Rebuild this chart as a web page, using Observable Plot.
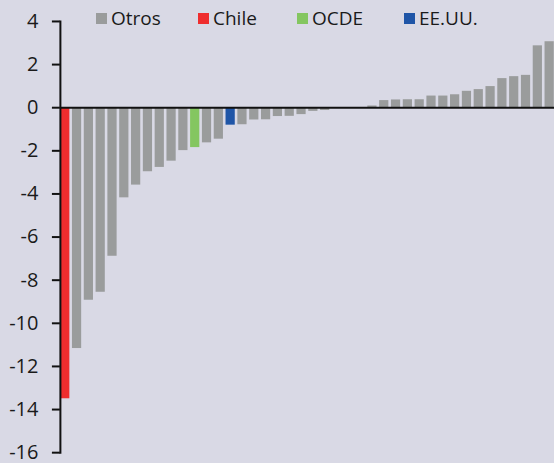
<!DOCTYPE html>
<html>
<head>
<meta charset="utf-8">
<script src="https://cdn.jsdelivr.net/npm/d3@7"></script>
<script src="https://cdn.jsdelivr.net/npm/@observablehq/plot@0.6"></script>
<style>
  html, body { margin: 0; padding: 0; background: #d9d9e5; overflow: hidden; }
  #wrap { position: relative; width: 554px; height: 463px; font-family: "Open Sans", "Noto Sans", sans-serif; }
  #legend { position: absolute; top: 5px; left: 0; font-size: 19px; color: #1a1a1a; }
  #legend .item { position: absolute; display: flex; align-items: center; white-space: nowrap; }
  #legend .sw { width: 11px; height: 11px; margin-right: 4px; }
</style>
</head>
<body>
<div id="wrap"><div id="chart"></div><div id="legend"></div></div>
<script>
// Data (one bar per country, sorted)
const countries = d3.range(42).map(i => "c" + i);
const values = [
  -13.5, -11.17, -8.93, -8.56, -6.89, -4.18, -3.59, -2.97, -2.77, -2.48,
  -1.99, -1.85, -1.63, -1.46, -0.81, -0.79, -0.57, -0.56, -0.41, -0.40,
  -0.32, -0.17, -0.13, 0, 0, 0, 0.08, 0.33, 0.36, 0.37,
  0.37, 0.54, 0.54, 0.60, 0.76, 0.84, 0.98, 1.35, 1.44, 1.50,
  2.87, 3.06
];
const groups = countries.map((c, i) => i === 0 ? "Chile" : i === 11 ? "OCDE" : i === 14 ? "EE.UU." : "Otros");
const legendNames = ["Otros", "Chile", "OCDE", "EE.UU."];
const legendColors = ["#9a9c9c", "#ef2d2e", "#84c660", "#1f55a7"];
const yTicks = [4, 2, 0, -2, -4, -6, -8, -10, -12, -14, -16];

const data = countries.map((c, i) => ({country: c, value: values[i], group: groups[i]}));
const fmt = d => d < 0 ? "-" + Math.abs(d) : String(d);

const chart = Plot.plot({
  width: 555,
  height: 463,
  marginLeft: 60,
  marginRight: 0,
  marginTop: 21,
  marginBottom: 10,
  style: {background: "#d9d9e5", fontFamily: "Open Sans, Noto Sans, sans-serif", fontSize: "20px", color: "#1a1a1a", overflow: "visible"},
  x: {domain: countries, paddingInner: 0.22, paddingOuter: 0.02, axis: null},
  y: {domain: [-16, 4], ticks: yTicks, tickFormat: fmt, label: null},
  color: {domain: legendNames, range: legendColors},
  marks: [
    Plot.barY(data, {x: "country", y: "value", fill: "group"}),
    Plot.ruleY([0], {stroke: "#111", strokeWidth: 2}),
    Plot.frame({anchor: "left", stroke: "#111", strokeWidth: 2}),
    Plot.axisY({ticks: yTicks, tickSize: 8, tickPadding: 14, tickFormat: fmt, label: null, stroke: "#111", strokeWidth: 2, fontSize: 20})
  ]
});
document.getElementById("chart").appendChild(chart);

const leg = document.getElementById("legend");
const legendLeft = [96, 198, 297, 404];
legendNames.forEach((n, i) => {
  const it = document.createElement("div");
  it.className = "item";
  it.style.left = legendLeft[i] + "px";
  it.innerHTML = `<span class="sw" style="background:${legendColors[i]}"></span><span>${n}</span>`;
  leg.appendChild(it);
});
</script>
</body>
</html>
